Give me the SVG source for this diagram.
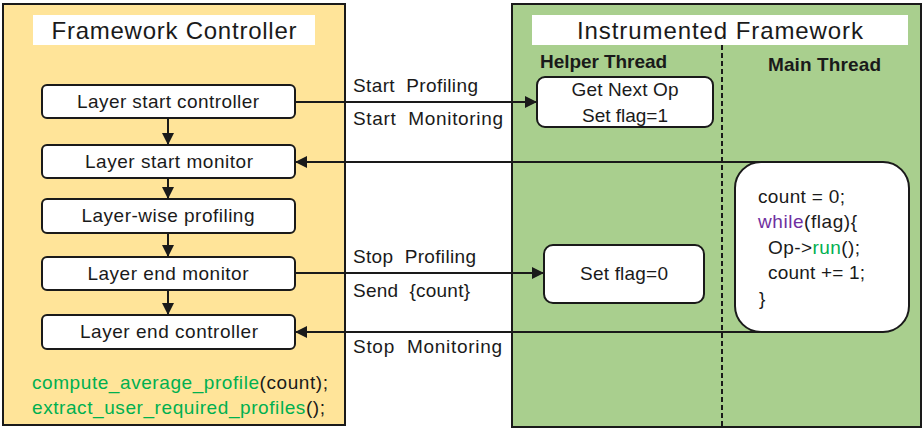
<svg xmlns="http://www.w3.org/2000/svg" width="924" height="429" viewBox="0 0 924 429">
<style>
text{font-family:"Liberation Sans",Arial,sans-serif;fill:#1a1a1a;white-space:pre}
.node{fill:#fff;stroke:#1a1a1a;stroke-width:2}
.lbl{font-size:19px;text-anchor:middle}
.edge{stroke:#1a1a1a;stroke-width:2;fill:none}
.title{font-size:24px;text-anchor:middle}
.grn{fill:#00b050}
.pur{fill:#7030a0}
.code{font-size:19px}
.bold{font-weight:bold;font-size:19px}
</style>
<defs>
<marker id="ah" viewBox="0 0 10 10" refX="10" refY="5" markerWidth="6" markerHeight="6" markerUnits="strokeWidth" orient="auto">
<path d="M0,0 L10,5 L0,10 z" fill="#1a1a1a"/>
</marker>
</defs>
<g id="framework-controller">
<rect x="3" y="4" width="342" height="421" fill="#ffe499" stroke="#1a1a1a" stroke-width="2"/>
<rect x="33" y="15" width="282" height="30" fill="#fff"/>
<text class="title" x="174" y="39" textLength="245">Framework Controller</text>
<text class="code" x="32" y="389" textLength="296"><tspan class="grn">compute_average_profile</tspan>(count);</text>
<text class="code" x="32" y="414" textLength="293"><tspan class="grn">extract_user_required_profiles</tspan>();</text>
</g>
<g id="instrumented-framework">
<rect x="512" y="4" width="409" height="423" fill="#a9cf8e" stroke="#1a1a1a" stroke-width="2"/>
<rect x="532" y="15" width="376" height="30" fill="#fff"/>
<text class="title" x="720" y="39" textLength="286">Instrumented Framework</text>
<text class="bold" x="540" y="68" textLength="127">Helper Thread</text>
<text class="bold" x="768" y="71" textLength="113">Main Thread</text>
<line x1="722" y1="45" x2="722" y2="427" stroke="#1a1a1a" stroke-width="2" stroke-dasharray="5,3"/>
</g>
<g id="layer-start-controller">
<rect class="node" x="42" y="85" width="253" height="33" rx="5"/>
<text class="lbl" x="168" y="108" textLength="182">Layer start controller</text>
</g>
<g id="layer-start-monitor">
<rect class="node" x="42" y="145" width="253" height="33" rx="5"/>
<text class="lbl" x="169" y="168" textLength="168">Layer start monitor</text>
</g>
<g id="layer-wise-profiling">
<rect class="node" x="42" y="199" width="253" height="34" rx="5"/>
<text class="lbl" x="168" y="222" textLength="173">Layer-wise profiling</text>
</g>
<g id="layer-end-monitor">
<rect class="node" x="42" y="257" width="253" height="33" rx="5"/>
<text class="lbl" x="168" y="280" textLength="161">Layer end monitor</text>
</g>
<g id="layer-end-controller">
<rect class="node" x="42" y="315" width="253" height="34" rx="5"/>
<text class="lbl" x="169" y="338" textLength="178">Layer end controller</text>
</g>
<g id="get-next-op">
<rect class="node" x="537" y="77" width="176" height="50" rx="8"/>
<text class="lbl" x="625" y="96" textLength="107">Get Next Op</text>
<text class="lbl" x="625" y="122" textLength="86">Set flag=1</text>
</g>
<g id="set-flag-0">
<rect class="node" x="544" y="245" width="160" height="58" rx="9"/>
<text class="lbl" x="624" y="280" textLength="88">Set flag=0</text>
</g>
<g id="main-loop">
<rect class="node" x="735" y="162" width="174" height="170" rx="26"/>
<text class="code" x="758" y="203" textLength="87">count = 0;</text>
<text class="code" x="758" y="228" textLength="99"><tspan class="pur">while</tspan>(flag){</text>
<text class="code" x="768" y="254" textLength="92">Op-&gt;<tspan class="grn">run</tspan>();</text>
<text class="code" x="768" y="279" textLength="97">count += 1;</text>
<text class="code" x="759" y="305">}</text>
</g>
<g id="connectors">
<line class="edge" x1="168" y1="118" x2="168" y2="145" marker-end="url(#ah)"/>
<line class="edge" x1="168" y1="178" x2="168" y2="199" marker-end="url(#ah)"/>
<line class="edge" x1="168" y1="233" x2="168" y2="257" marker-end="url(#ah)"/>
<line class="edge" x1="168" y1="290" x2="168" y2="315" marker-end="url(#ah)"/>
<line class="edge" x1="295" y1="102" x2="537" y2="102" marker-end="url(#ah)"/>
<line class="edge" x1="760" y1="162" x2="295" y2="162" marker-end="url(#ah)"/>
<line class="edge" x1="295" y1="273" x2="544" y2="273" marker-end="url(#ah)"/>
<line class="edge" x1="760" y1="332" x2="295" y2="332" marker-end="url(#ah)"/>
<text class="code" x="353" y="92" textLength="125">Start  Profiling</text>
<text class="code" x="353" y="125" textLength="150">Start  Monitoring</text>
<text class="code" x="353" y="263" textLength="123">Stop  Profiling</text>
<text class="code" x="353" y="297" textLength="117">Send  {count}</text>
<text class="code" x="353" y="353" textLength="149">Stop  Monitoring</text>
</g>
</svg>
